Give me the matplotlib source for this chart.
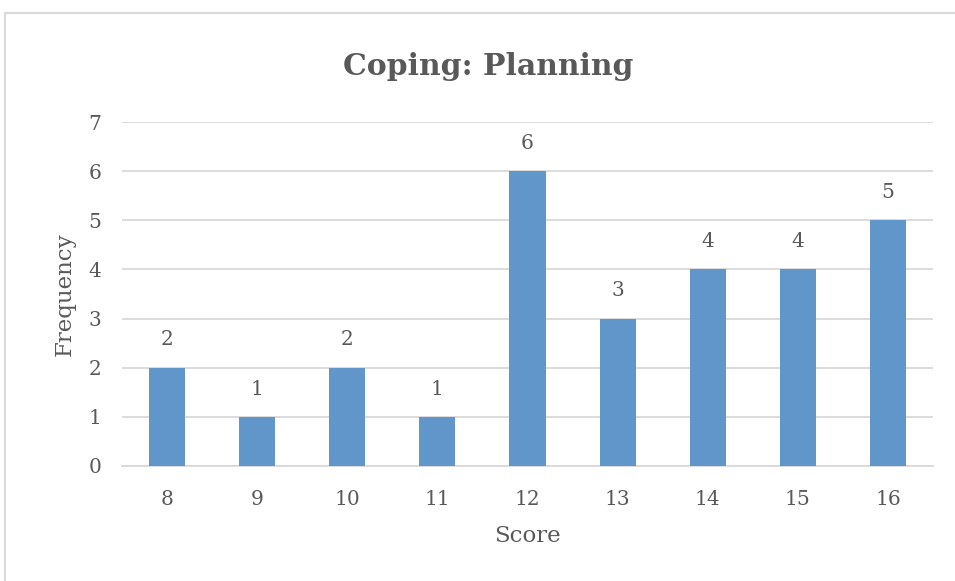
import matplotlib.pyplot as plt
from matplotlib.patches import Rectangle

scores = ["8", "9", "10", "11", "12", "13", "14", "15", "16"]
frequency = [2, 1, 2, 1, 6, 3, 4, 4, 5]
y_ticks = [0, 1, 2, 3, 4, 5, 6, 7]

BAR_COLOR = "#6096C9"
TEXT_COLOR = "#595959"
GRID_COLOR = "#D9D9D9"

plt.rcParams["font.family"] = ["DejaVu Serif"]

fig = plt.figure(figsize=(9.55, 5.81), dpi=100)
ax = fig.add_axes([0.1277, 0.198, 0.8493, 0.592])

x = range(len(scores))
bars = ax.bar(x, frequency, width=0.4, color=BAR_COLOR, zorder=3)

for rect, val in zip(bars, frequency):
    ax.annotate(str(val), (rect.get_x() + rect.get_width() / 2, val),
                xytext=(0, 20), textcoords="offset points",
                ha="center", va="center", fontsize=14.5, color=TEXT_COLOR)

ax.set_xlim(-0.5, len(scores) - 0.5)
ax.set_ylim(0, 7)
ax.set_yticks(y_ticks)
ax.set_xticks(list(x))
ax.set_xticklabels(scores)
ax.yaxis.grid(True, color=GRID_COLOR, linewidth=1.3, zorder=0)
for side in ["top", "right", "left"]:
    ax.spines[side].set_visible(False)
ax.spines["bottom"].set_color(GRID_COLOR)
ax.spines["bottom"].set_linewidth(1.3)
ax.tick_params(axis="both", length=0, labelsize=14.5, labelcolor=TEXT_COLOR)
ax.tick_params(axis="y", pad=15)
ax.tick_params(axis="x", pad=17)

ax.set_xlabel("Score", fontsize=16.5, color=TEXT_COLOR, labelpad=12)
ax.set_ylabel("Frequency", fontsize=16.5, color=TEXT_COLOR, labelpad=9)
fig.text(0.511, 0.886, "Coping: Planning", ha="center", va="center",
         fontsize=21.5, fontweight="bold", color=TEXT_COLOR)

# chart-area border, only the top and left edges fall inside the canvas
fig.add_artist(Rectangle((5 / 955, -0.2), 1.2, 1.2 - 13 / 581,
                         transform=fig.transFigure, fill=False,
                         edgecolor=GRID_COLOR, linewidth=1.5))

fig.savefig("out.png", dpi=100)
